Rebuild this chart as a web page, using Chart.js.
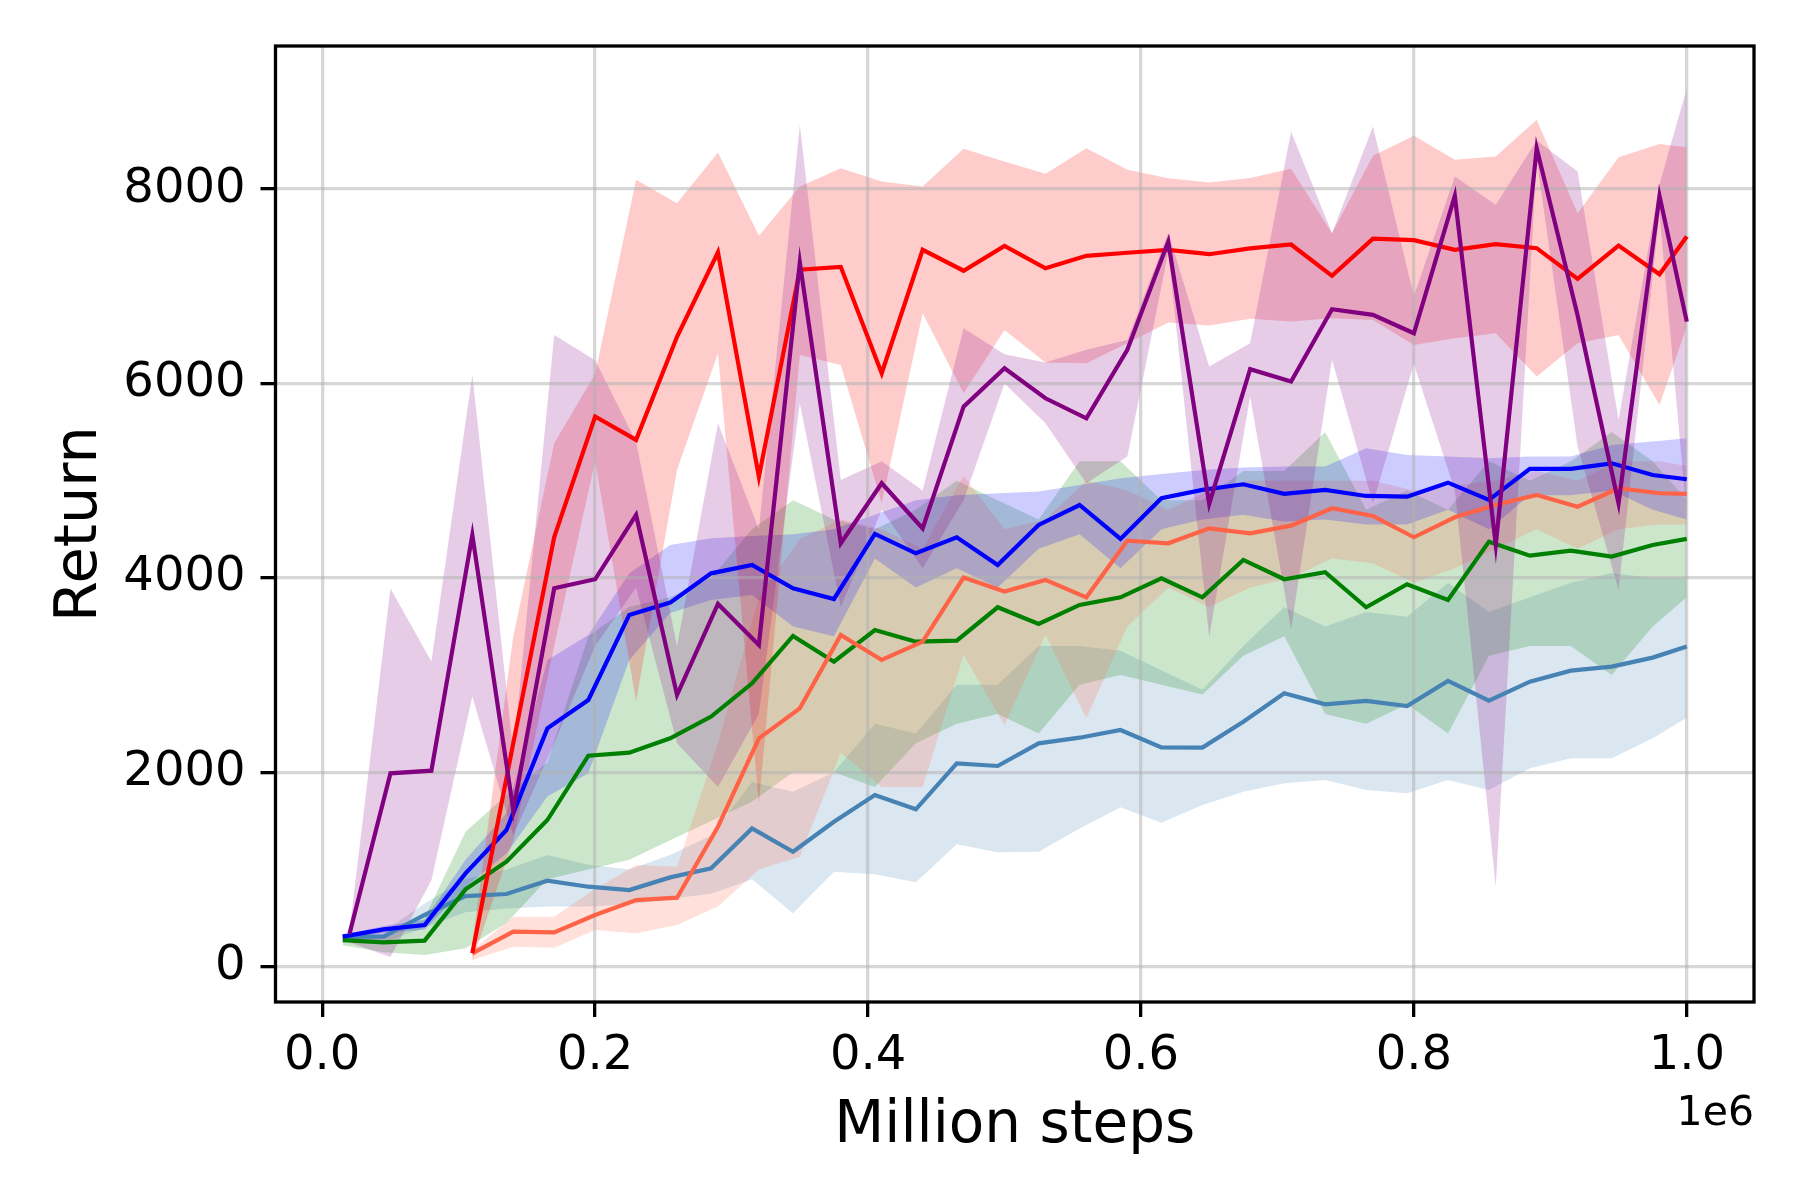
<!DOCTYPE html>
<html>
<head>
<meta charset="utf-8">
<script src="https://cdn.jsdelivr.net/npm/chart.js@4.4.1/dist/chart.umd.min.js"></script>
<style>
  html, body { margin: 0; padding: 0; background: #ffffff; }
  #wrap { width: 1800px; height: 1200px; }
</style>
</head>
<body>
<div id="wrap"><canvas id="c" width="1800" height="1200"></canvas></div>
<script>
// ---- data ----
const stepsA = [20000, 50000, 80000, 110000, 140000, 170000, 200000, 230000, 260000, 290000, 320000, 350000, 380000, 410000, 440000, 470000, 500000, 530000, 560000, 590000, 620000, 650000, 680000, 710000, 740000, 770000, 800000, 830000, 860000, 890000, 920000, 950000, 980000, 1000000];
const stepsB = [15000, 45000, 75000, 105000, 135000, 165000, 195000, 225000, 255000, 285000, 315000, 345000, 375000, 405000, 435000, 465000, 495000, 525000, 555000, 585000, 615000, 645000, 675000, 705000, 735000, 765000, 795000, 825000, 855000, 885000, 915000, 945000, 975000, 1000000];

const redMean  = [null,null,null,140,2300,4420,5660,5420,6480,7350,5040,7170,7200,6105,7375,7160,7415,7185,7313,7345,7375,7330,7390,7430,7107,7490,7475,7375,7433,7392,7076,7419,7124,7512];
const redUpper = [null,null,null,250,3400,5385,6100,8095,7855,8376,7519,8026,8215,8078,8026,8414,8283,8157,8420,8198,8112,8067,8115,8210,7546,8342,8548,8301,8335,8712,7752,8328,8465,8431];
const redLower = [null,null,null,60,1300,3300,5200,2730,5110,6311,1680,6294,6191,4768,6723,5900,6551,6215,6208,6414,6627,6596,6665,6637,6671,6654,6397,6465,6517,6071,6414,6500,5780,6586];

const purpleMean  = [340,1990,2017,4442,1612,3893,3986,4648,2795,3732,3310,7244,4356,4974,4510,5762,6157,5848,5642,6346,7460,4761,6147,6020,6764,6706,6517,7930,4339,8421,6700,4768,7930,6637];
const purpleUpper = [370,3890,3140,6090,2200,6500,6240,5400,3300,5590,4500,8660,5008,5200,4900,6568,6300,6215,6346,6448,7550,6174,6414,8590,7546,8644,6900,8129,7838,8500,8181,5625,8050,9038];
const purpleLower = [250,100,890,2780,1350,2300,3300,3900,2300,1850,2600,5797,3700,4700,4100,4800,6000,5591,4974,5250,7350,3390,5865,3470,6243,4768,6200,4900,823,8300,5350,3876,7750,4630];

const blueMean  = [309,384,429,960,1406,2452,2744,3619,3746,4047,4133,3893,3783,4452,4253,4418,4133,4545,4750,4401,4819,4905,4963,4864,4905,4843,4836,4980,4802,5121,5121,5179,5059,5015];
const blueUpper = [330,420,480,1100,1578,3156,3413,4047,4339,4408,4432,4450,4500,4650,4800,4850,4870,4888,4956,5025,5070,5111,5135,5145,5145,5334,5265,5248,5231,5248,5250,5368,5402,5437];
const blueLower = [290,350,380,820,1166,1750,1990,3156,3638,3773,3824,3500,3400,4200,3900,4100,3900,4300,4450,4100,4500,4600,4650,4580,4600,4550,4550,4700,4500,4850,4850,4900,4700,4600];

const tomatoMean  = [null,null,null,137,360,353,532,686,710,1440,2350,2658,3413,3156,3344,4003,3859,3979,3800,4384,4356,4510,4459,4538,4716,4637,4418,4624,4751,4853,4733,4922,4871,4864];
const tomatoUpper = [null,null,null,170,515,515,800,1046,1029,2300,3800,4400,4600,4500,4300,5050,4500,4600,5000,4900,4700,4900,5000,5000,5000,5000,4900,4950,5000,5100,5000,5200,5200,5150];
const tomatoLower = [null,null,null,70,206,196,377,343,429,620,1000,1130,2200,1850,1850,3207,2487,3413,2555,3500,3900,3700,3900,4000,4200,4150,3950,4100,4300,4500,4300,4500,4550,4550];

const greenMean  = [274,250,268,796,1080,1509,2171,2202,2350,2573,2916,3403,3138,3464,3344,3355,3698,3526,3722,3800,3996,3800,4185,3986,4058,3698,3935,3773,4373,4229,4281,4219,4339,4401];
const greenUpper = [330,300,500,1389,1766,2100,3400,3700,3800,4000,4500,4800,4600,4500,4700,5000,4800,4600,5200,5200,4800,4800,5100,5100,5500,4700,4900,4700,5200,5000,5200,5500,5200,4800];
const greenLower = [220,150,120,189,450,900,1000,1100,1300,1500,1700,2000,2000,1850,2300,2500,2600,2400,2900,3000,2900,2800,3200,3400,2600,2500,2700,2400,3200,3300,3300,3000,3500,3800];

const steelMean  = [309,309,532,727,748,885,823,789,919,1012,1423,1183,1492,1766,1619,2092,2065,2298,2356,2435,2257,2254,2521,2813,2699,2734,2682,2940,2737,2933,3046,3087,3180,3293];
const steelUpper = [340,360,650,900,1000,1150,1050,1000,1150,1350,1900,1800,2000,2500,2400,2900,2900,3300,3300,3250,3050,2850,3300,3700,3500,3650,3600,3950,3650,3800,3950,4050,4000,4000];
const steelLower = [280,250,400,560,600,620,620,640,700,750,900,549,978,950,868,1259,1177,1183,1423,1640,1482,1664,1801,1887,1921,1818,1784,1921,1818,2041,2144,2144,2350,2562];

const xTicks = [0, 200000, 400000, 600000, 800000, 1000000];
const yTicks = [0, 2000, 4000, 6000, 8000];

// ---- build ----
function pts(xs, ys) {
  const out = [];
  for (let i = 0; i < xs.length; i++) if (ys[i] !== null) out.push({x: xs[i], y: ys[i]});
  return out;
}

const series = [
  {name: 'purple', xs: stepsA, mean: purpleMean, up: purpleUpper, lo: purpleLower, color: '#800080', band: 'rgba(128,0,128,0.2)'},
  {name: 'red', xs: stepsA, mean: redMean, up: redUpper, lo: redLower, color: '#ff0000', band: 'rgba(255,0,0,0.2)'},
  {name: 'blue', xs: stepsB, mean: blueMean, up: blueUpper, lo: blueLower, color: '#0000ff', band: 'rgba(0,0,255,0.2)'},
  {name: 'tomato', xs: stepsA, mean: tomatoMean, up: tomatoUpper, lo: tomatoLower, color: '#ff6347', band: 'rgba(255,99,71,0.2)'},
  {name: 'green', xs: stepsB, mean: greenMean, up: greenUpper, lo: greenLower, color: '#008000', band: 'rgba(0,128,0,0.2)'},
  {name: 'steelblue', xs: stepsB, mean: steelMean, up: steelUpper, lo: steelLower, color: '#4682b4', band: 'rgba(70,130,180,0.2)'}
];

const datasets = [];
series.forEach(s => {
  datasets.push({
    label: s.name,
    data: pts(s.xs, s.mean),
    borderColor: s.color,
    borderWidth: 4.2,
    pointRadius: 0,
    fill: false,
    tension: 0,
    borderJoinStyle: 'miter'
  });
});
series.forEach(s => {
  datasets.push({
    label: s.name + ' lower',
    data: pts(s.xs, s.lo),
    borderColor: 'rgba(0,0,0,0)',
    borderWidth: 0,
    pointRadius: 0,
    fill: false,
    tension: 0
  });
  datasets.push({
    label: s.name + ' upper',
    data: pts(s.xs, s.up),
    borderColor: 'rgba(0,0,0,0)',
    borderWidth: 0,
    pointRadius: 0,
    backgroundColor: s.band,
    fill: '-1',
    tension: 0
  });
});

const frame = {
  id: 'frame',
  afterDatasetsDraw(chart) {
    const {ctx, chartArea: a} = chart;
    ctx.save();
    ctx.strokeStyle = '#000';
    ctx.lineWidth = 3.3;
    ctx.strokeRect(a.left, a.top, a.right - a.left, a.bottom - a.top);
    ctx.restore();
  },
  afterDraw(chart) {
    const {ctx, chartArea: a} = chart;
    ctx.save();
    ctx.fillStyle = '#000';
    ctx.font = '41px "DejaVu Sans"';
    ctx.textAlign = 'right';
    ctx.textBaseline = 'alphabetic';
    ctx.fillText('1e6', a.right, 1125);
    ctx.restore();
  }
};

Chart.defaults.font.family = '"DejaVu Sans", sans-serif';
Chart.defaults.color = '#000';

new Chart(document.getElementById('c'), {
  type: 'line',
  data: {datasets},
  options: {
    responsive: false,
    animation: false,
    devicePixelRatio: 1,
    layout: {padding: {left: 0, right: 46, top: 46, bottom: 0}},
    plugins: {
      legend: {display: false},
      tooltip: {enabled: false},
      filler: {drawTime: 'beforeDraw', propagate: false}
    },
    scales: {
      x: {
        type: 'linear',
        min: -34250,
        max: 1049250,
        afterBuildTicks: s => { s.ticks = xTicks.map(v => ({value: v})); },
        afterFit: s => { s.height = 198; },
        ticks: {
          font: {size: 48},
          color: '#000',
          padding: 11,
          maxRotation: 0,
          autoSkip: false,
          callback: v => (v / 1e6).toFixed(1)
        },
        grid: {
          color: 'rgba(176,176,176,0.5)',
          lineWidth: 3.3,
          drawTicks: true,
          tickLength: 15,
          tickColor: '#000',
          tickWidth: 3.3
        },
        border: {display: false},
        title: {
          display: true,
          text: 'Million steps',
          font: {size: 58},
          color: '#000',
          padding: {top: 0, bottom: 38}
        }
      },
      y: {
        type: 'linear',
        min: -363,
        max: 9472,
        afterBuildTicks: s => { s.ticks = yTicks.map(v => ({value: v})); },
        afterFit: s => { s.width = 275.5; },
        ticks: {
          font: {size: 48},
          color: '#000',
          padding: 15,
          autoSkip: false,
          callback: v => String(v)
        },
        grid: {
          color: 'rgba(176,176,176,0.5)',
          lineWidth: 3.3,
          drawTicks: true,
          tickLength: 15,
          tickColor: '#000',
          tickWidth: 3.3
        },
        border: {display: false},
        title: {
          display: true,
          text: 'Return',
          font: {size: 59},
          color: '#000',
          padding: {top: 45, bottom: 0}
        }
      }
    }
  },
  plugins: [frame]
});
</script>
</body>
</html>
